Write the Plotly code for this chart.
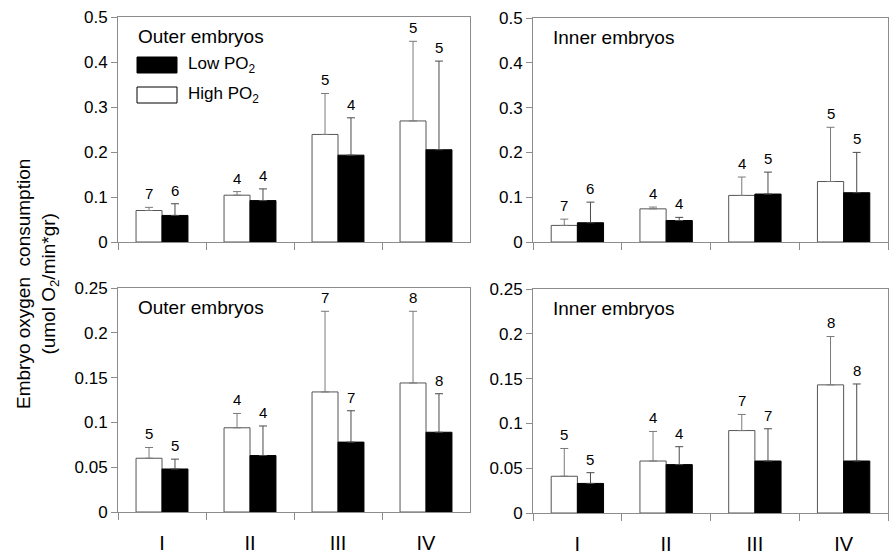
import plotly.graph_objects as go

categories = ["I", "II", "III", "IV"]

# Panel A: Outer embryos (top-left)
outer1_high = [0.070, 0.104, 0.239, 0.269]
outer1_high_err = [0.007, 0.008, 0.091, 0.177]
outer1_low = [0.059, 0.092, 0.193, 0.205]
outer1_low_err = [0.026, 0.026, 0.083, 0.197]
outer1_high_n = ["7", "4", "5", "5"]
outer1_low_n = ["6", "4", "4", "5"]

# Panel B: Inner embryos (top-right)
inner1_high = [0.037, 0.074, 0.104, 0.135]
inner1_high_err = [0.014, 0.004, 0.041, 0.121]
inner1_low = [0.043, 0.048, 0.107, 0.110]
inner1_low_err = [0.046, 0.007, 0.049, 0.090]
inner1_high_n = ["7", "4", "4", "5"]
inner1_low_n = ["6", "4", "5", "5"]

# Panel C: Outer embryos (bottom-left)
outer2_high = [0.060, 0.094, 0.134, 0.144]
outer2_high_err = [0.012, 0.016, 0.090, 0.080]
outer2_low = [0.048, 0.063, 0.078, 0.089]
outer2_low_err = [0.011, 0.033, 0.035, 0.043]
outer2_high_n = ["5", "4", "7", "8"]
outer2_low_n = ["5", "4", "7", "8"]

# Panel D: Inner embryos (bottom-right)
inner2_high = [0.041, 0.058, 0.092, 0.143]
inner2_high_err = [0.031, 0.033, 0.018, 0.054]
inner2_low = [0.033, 0.054, 0.058, 0.058]
inner2_low_err = [0.012, 0.020, 0.036, 0.086]
inner2_high_n = ["5", "4", "7", "8"]
inner2_low_n = ["5", "4", "7", "8"]

FONT = "Liberation Sans, Arial, Helvetica, sans-serif"
W, H = 890, 557
GRID = "#8c8c8c"

panels = [
    dict(name="Outer embryos", high=outer1_high, he=outer1_high_err, low=outer1_low, le=outer1_low_err,
         hn=outer1_high_n, ln=outer1_low_n, xa="x", ya="y", rng=[0, 0.5], dt=0.1,
         xd=[118, 470], yd=[17, 242], labels=False),
    dict(name="Inner embryos", high=inner1_high, he=inner1_high_err, low=inner1_low, le=inner1_low_err,
         hn=inner1_high_n, ln=inner1_low_n, xa="x2", ya="y2", rng=[0, 0.5], dt=0.1,
         xd=[533, 888], yd=[18, 242], labels=False),
    dict(name="Outer embryos", high=outer2_high, he=outer2_high_err, low=outer2_low, le=outer2_low_err,
         hn=outer2_high_n, ln=outer2_low_n, xa="x3", ya="y3", rng=[0, 0.25], dt=0.05,
         xd=[118, 470], yd=[288, 512], labels=True),
    dict(name="Inner embryos", high=inner2_high, he=inner2_high_err, low=inner2_low, le=inner2_low_err,
         hn=inner2_high_n, ln=inner2_low_n, xa="x4", ya="y4", rng=[0, 0.25], dt=0.05,
         xd=[533, 888], yd=[289, 513], labels=True),
]

fig = go.Figure()
layout = dict(width=W, height=H, margin=dict(l=0, r=0, t=0, b=0, autoexpand=False),
              paper_bgcolor="white", plot_bgcolor="white", showlegend=False,
              barmode="group", bargap=0.41, bargroupgap=0.0,
              font=dict(family=FONT, color="black"))
annotations = []
shapes = []

for i, p in enumerate(panels):
    suffix = "" if i == 0 else str(i + 1)
    fig.add_trace(go.Bar(
        x=categories, y=p["high"], xaxis=p["xa"], yaxis=p["ya"], offsetgroup="h",
        marker=dict(color="white", line=dict(color="#555555", width=1)),
        error_y=dict(type="data", array=p["he"], arrayminus=[0] * 4, symmetric=False,
                     color="#7a7a7a", thickness=1, width=4),
    ))
    fig.add_trace(go.Bar(
        x=categories, y=p["low"], xaxis=p["xa"], yaxis=p["ya"], offsetgroup="l",
        marker=dict(color="black", line=dict(color="black", width=1)),
        error_y=dict(type="data", array=p["le"], arrayminus=[0] * 4, symmetric=False,
                     color="#4a4a4a", thickness=1, width=4),
    ))
    dom_x = [p["xd"][0] / W, p["xd"][1] / W]
    dom_y = [1 - p["yd"][1] / H, 1 - p["yd"][0] / H]
    layout["xaxis" + suffix] = dict(
        domain=dom_x, anchor=p["ya"], type="category", showgrid=False,
        showline=True, linecolor=GRID, linewidth=1, mirror=True,
        ticks="outside", tickson="boundaries", ticklen=7, tickcolor=GRID,
        showticklabels=p["labels"], tickfont=dict(size=20, family=FONT),
        ticklabelstandoff=13,
        range=[-0.5, 3.5], fixedrange=True,
    )
    ntick = int(round(p["rng"][1] / p["dt"])) + 1
    tv = [round(k * p["dt"], 3) for k in range(ntick)]
    layout["yaxis" + suffix] = dict(
        domain=dom_y, anchor=p["xa"], range=p["rng"], showgrid=False, zeroline=False,
        showline=True, linecolor=GRID, linewidth=1, mirror=True,
        ticks="outside", ticklen=6, tickcolor=GRID,
        tickvals=tv, ticktext=[("%g" % v) for v in tv],
        tickfont=dict(size=17, family=FONT), fixedrange=True,
    )
    # sample size labels above error bars
    for j, c in enumerate(categories):
        annotations.append(dict(
            x=c, y=p["high"][j] + p["he"][j], xref=p["xa"], yref=p["ya"],
            text=p["hn"][j], showarrow=False, xshift=-13, yanchor="bottom", yshift=3,
            font=dict(size=15, family=FONT, color="black")))
        annotations.append(dict(
            x=c, y=p["low"][j] + p["le"][j], xref=p["xa"], yref=p["ya"],
            text=p["ln"][j], showarrow=False, xshift=13, yanchor="bottom", yshift=3,
            font=dict(size=15, family=FONT, color="black")))
    # panel title
    annotations.append(dict(
        x=0.05, y=0.915, xref=p["xa"] + " domain", yref=p["ya"] + " domain",
        text=p["name"], showarrow=False, xanchor="left", yanchor="middle",
        font=dict(size=19, family=FONT, color="black")))

# legend (top-left panel)
for k, (label, fill) in enumerate([("Low PO<sub>2</sub>", "black"), ("High PO<sub>2</sub>", "white")]):
    y0 = 57 + k * 30
    shapes.append(dict(type="rect", xref="paper", yref="paper",
                       x0=137 / W, x1=177 / W, y0=1 - (y0 + 16) / H, y1=1 - y0 / H,
                       fillcolor=fill, line=dict(color="black", width=1)))
    annotations.append(dict(x=186 / W, y=1 - (y0 + 8) / H, xref="paper", yref="paper",
                            text=label, showarrow=False, xanchor="left", yanchor="middle",
                            font=dict(size=17, family=FONT, color="black")))

# shared y-axis title
annotations.append(dict(
    x=37 / W, y=1 - 284 / H, xref="paper", yref="paper", textangle=-90,
    text="Embryo oxygen  consumption<br>(umol O<sub>2</sub>/min*gr)", showarrow=False,
    xanchor="center", yanchor="middle", font=dict(size=19, family=FONT, color="black")))

layout["annotations"] = annotations
layout["shapes"] = shapes
fig.update_layout(**layout)

pin_script = (
    "document.documentElement.style.margin='0';"
    "document.documentElement.style.overflow='hidden';"
    "document.body.style.margin='0';"
    "document.body.style.overflow='hidden';"
    "var d=document.getElementById('{plot_id}');"
    "d.style.position='fixed';d.style.top='0px';d.style.left='0px';"
)
fig.write_html("out.html", config={"displayModeBar": False}, post_script=pin_script)
